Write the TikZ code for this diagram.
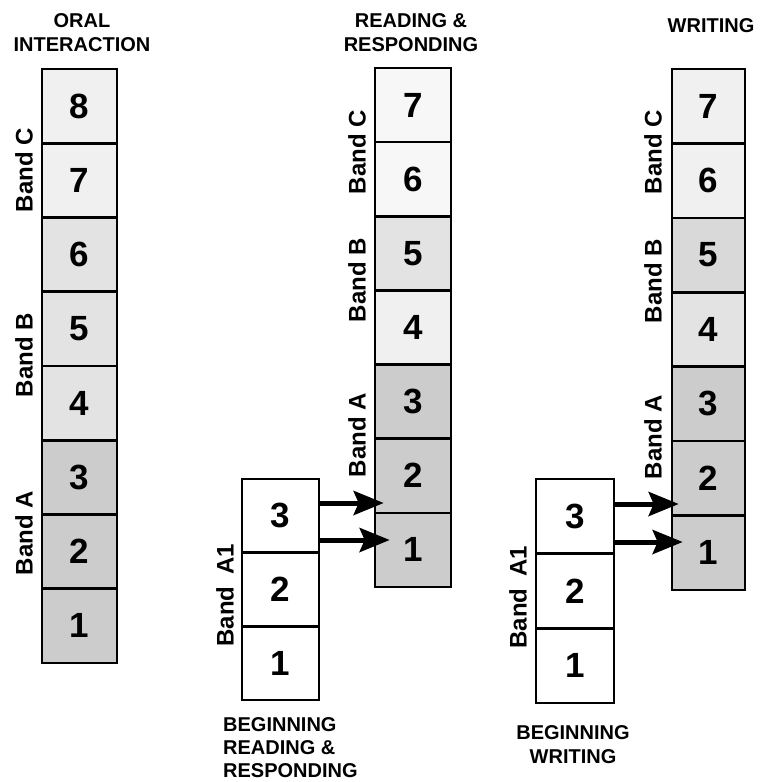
\documentclass[tikz,border=0pt]{standalone}
\usepackage{fontspec}
\setmainfont{Liberation Sans}
\usetikzlibrary{arrows.meta}
\definecolor{gA}{gray}{0.94}
\definecolor{gB}{gray}{0.89}
\definecolor{gC}{gray}{0.85}
\definecolor{gD}{gray}{0.80}
\definecolor{gW}{gray}{0.97}
\begin{document}
\begin{tikzpicture}[x=1pt,y=-1pt,
  cell/.style={draw, line width=2.6pt, inner sep=0pt, font=\fontsize{35}{35}\selectfont\bfseries},
  bandlbl/.style={rotate=90, font=\fontsize{24}{24}\selectfont\bfseries, inner sep=0pt},
  hdr/.style={font=\fontsize{20}{24}\selectfont\bfseries, align=center, inner sep=0pt},
  arr/.style={line width=5pt, -{Stealth[length=30pt,width=24pt,inset=5pt]}}]
\useasboundingbox (0,0) rectangle (760,782);

% Column 1: Oral interaction
\foreach \n/\fc/\j in {8/gA/0,7/gA/1,6/gB/2,5/gB/3,4/gB/4,3/gD/5,2/gD/6,1/gD/7}
  \node[cell, fill=\fc, minimum width=75pt, minimum height=74.25pt] (o\n) at (79.5,{69+74.25*(\j+0.5)}) {\n};

% Column 2: Reading & responding
\foreach \n/\fc/\j in {7/gW/0,6/gW/1,5/gB/2,4/gA/3,3/gD/4,2/gD/5,1/gD/6}
  \node[cell, fill=\fc, minimum width=76pt, minimum height=74.14pt] (r\n) at (413,{68+74.14*(\j+0.5)}) {\n};

% Column 3: Writing
\foreach \n/\fc/\j in {7/gA/0,6/gA/1,5/gC/2,4/gB/3,3/gD/4,2/gD/5,1/gD/6}
  \node[cell, fill=\fc, minimum width=73pt, minimum height=74.43pt] (w\n) at (708.5,{69+74.43*(\j+0.5)}) {\n};

% Beginning reading & responding
\foreach \n/\j in {3/0,2/1,1/2}
  \node[cell, fill=white, minimum width=77pt, minimum height=73.7pt] (s\n) at (280.5,{479+73.7*(\j+0.5)}) {\n};

% Beginning writing
\foreach \n/\j in {3/0,2/1,1/2}
  \node[cell, fill=white, minimum width=78pt, minimum height=74.7pt] (t\n) at (575,{479+74.7*(\j+0.5)}) {\n};

% Arrows
\draw[arr] (s3.east |- 0,503) -- ([xshift=10pt]r2.west |- 0,503);
\draw[arr] (s3.east |- 0,540) -- ([xshift=16pt]r1.west |- 0,540);
\draw[arr] (t3.east |- 0,504) -- ([xshift=8pt]w2.west |- 0,504);
\draw[arr] (t3.east |- 0,542) -- ([xshift=12pt]w1.west |- 0,542);

% Headers
\node[hdr] (h1) at (82,33) {ORAL\\INTERACTION};
\node[hdr] (h2) at (411,33) {READING \&\\RESPONDING};
\node[hdr] (h3) at (711,26) {WRITING};
\node[hdr, font=\fontsize{20}{23}\selectfont\bfseries, align=left, anchor=north west] (h4) at (223,717) {BEGINNING\\READING \&\\RESPONDING};
\node[hdr, anchor=north] (h5) at (573,725) {BEGINNING\\WRITING};

% Band labels
\node[bandlbl] (bc1) at (24,170) {Band C};
\node[bandlbl] (bb1) at (24,355) {Band B};
\node[bandlbl] (ba1) at (24,533) {Band A};
\node[bandlbl] (bc2) at (357,152) {Band C};
\node[bandlbl] (bb2) at (357,280) {Band B};
\node[bandlbl] (ba2) at (357,435) {Band A};
\node[bandlbl] (bc3) at (653,152) {Band C};
\node[bandlbl] (bb3) at (653,281) {Band B};
\node[bandlbl] (ba3) at (653,437) {Band A};
\node[bandlbl] (bs2) at (225,595) {Band\hspace{0.5em}A1};
\node[bandlbl] (bs3) at (518,597) {Band\hspace{0.5em}A1};
\end{tikzpicture}
\end{document}
